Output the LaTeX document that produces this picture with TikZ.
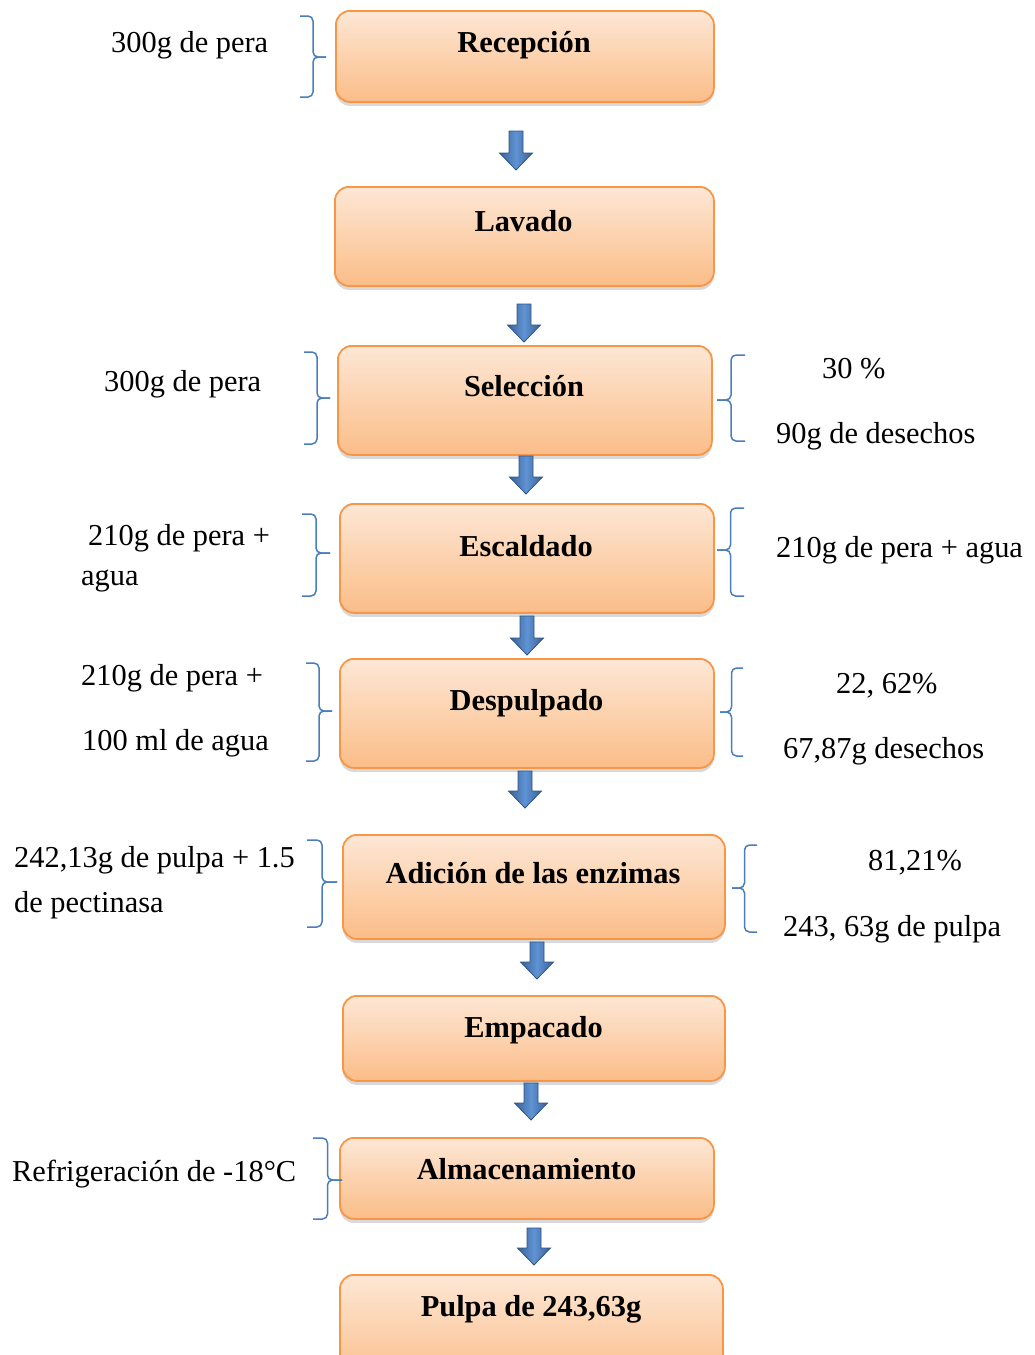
\documentclass[tikz,border=0pt]{standalone}
\usepackage{fontspec}
\setmainfont{Liberation Serif}
\usetikzlibrary{shadows}
\definecolor{boxtop}{HTML}{FDE7D5}
\definecolor{boxbot}{HTML}{FBBD88}
\definecolor{boxline}{HTML}{F79646}
\definecolor{bracecol}{HTML}{4A7EBB}
\definecolor{arrdark}{HTML}{3A6298}
\definecolor{arrlight}{HTML}{5F93D4}
\definecolor{arrline}{HTML}{2F5482}
\tikzset{
  stagebox/.style={rounded corners=14pt, draw=boxline, line width=1.8pt,
    top color=boxtop, bottom color=boxbot, anchor=north west, inner sep=0pt,
    drop shadow={shadow xshift=0pt, shadow yshift=-4pt, opacity=0.3}},
  stagetext/.style={anchor=base, inner sep=0pt, font=\fontsize{30.4}{34}\selectfont\bfseries},
  sidetext/.style={anchor=base west, inner sep=0pt, font=\fontsize{30.4}{34}\selectfont},
  bracestyle/.style={draw=bracecol, line width=1.5pt, rounded corners=5pt},
  blockarrow/.style={draw=arrline, line width=0.8pt, left color=arrdark, right color=arrdark, middle color=arrlight}
}
\newcommand\SideBrace[5]{%
  \draw[bracestyle] (#1,#3) -- ({(#1+#2)/2},#3) -- ({(#1+#2)/2},#4) -- (#2,#4);
  \draw[bracestyle] (#2,#4) -- ({(#1+#2)/2},#4) -- ({(#1+#2)/2},#5) -- (#1,#5);}
\newcommand\DownBlock[3]{%
  \draw[blockarrow] ({#1-7},#2) -- ({#1+7},#2) -- ({#1+7},{#3-17}) -- ({#1+16.5},{#3-17})
    -- (#1,#3) -- ({#1-16.5},{#3-17}) -- ({#1-7},{#3-17}) -- cycle;}
\begin{document}
\begin{tikzpicture}[x=1pt,y=-1pt]
\useasboundingbox (0,0) rectangle (1035,1355);
% boxes
\node[stagebox, minimum width=378pt, minimum height=91pt] (b1) at (335,10) {};
\node[stagebox, minimum width=379pt, minimum height=99pt] (b2) at (334,186) {};
\node[stagebox, minimum width=374pt, minimum height=109pt] (b3) at (337,345) {};
\node[stagebox, minimum width=374pt, minimum height=109pt] (b4) at (339,503) {};
\node[stagebox, minimum width=374pt, minimum height=109pt] (b5) at (339,658) {};
\node[stagebox, minimum width=382pt, minimum height=104pt] (b6) at (342,834) {};
\node[stagebox, minimum width=382pt, minimum height=85pt] (b7) at (342,995) {};
\node[stagebox, minimum width=374pt, minimum height=81pt] (b8) at (339,1137) {};
\node[stagebox, minimum width=383pt, minimum height=110pt] (b9) at (339,1274) {};
% box titles
\node[stagetext] (t1) at (524,52) {Recepción};
\node[stagetext] (t2) at (523.5,231) {Lavado};
\node[stagetext] (t3) at (524,396) {Selección};
\node[stagetext] (t4) at (526,556) {Escaldado};
\node[stagetext] (t5) at (526.5,710) {Despulpado};
\node[stagetext] (t6) at (533,883) {Adición de las enzimas};
\node[stagetext] (t7) at (533.5,1037) {Empacado};
\node[stagetext] (t8) at (526.5,1179) {Almacenamiento};
\node[stagetext] (t9) at (531,1316) {Pulpa de 243,63g};
% arrows
\DownBlock{516}{131}{170}
\DownBlock{524}{304}{342}
\DownBlock{526}{456}{494}
\DownBlock{527}{616}{655}
\DownBlock{525}{771}{808}
\DownBlock{537}{942}{979}
\DownBlock{531}{1083}{1120}
\DownBlock{534}{1228}{1265}
% left braces
\SideBrace{300}{326}{16}{57}{97}
\SideBrace{304}{330}{352}{398}{444}
\SideBrace{302}{330}{514}{553}{596}
\SideBrace{306}{332}{663}{711}{761}
\SideBrace{307}{337}{840}{882}{927}
\SideBrace{313}{342}{1138}{1180}{1219}
% right braces
\SideBrace{745}{717}{355}{400}{441}
\SideBrace{744}{717}{508}{550}{596}
\SideBrace{743}{720}{668}{712}{756}
\SideBrace{757}{732}{845}{888}{932}
% left texts
\node[sidetext] (l1) at (111,52) {300g de pera};
\node[sidetext] (l2) at (104,391) {300g de pera};
\node[sidetext] (l3a) at (88,545) {210g de pera +};
\node[sidetext] (l3b) at (81,585) {agua};
\node[sidetext] (l4a) at (81,685) {210g de pera +};
\node[sidetext] (l4b) at (82,750) {100 ml de agua};
\node[sidetext] (l5a) at (14,867) {242,13g de pulpa + 1.5};
\node[sidetext] (l5b) at (14,912) {de pectinasa};
\node[sidetext] (l6) at (12,1181) {Refrigeración de -18°C};
% right texts
\node[sidetext] (r1a) at (822,378) {30 \%};
\node[sidetext] (r1b) at (776,443) {90g de desechos};
\node[sidetext] (r2) at (776,557) {210g de pera + agua};
\node[sidetext] (r3a) at (836,693) {22, 62\%};
\node[sidetext] (r3b) at (783,758) {67,87g desechos};
\node[sidetext] (r4a) at (868,870) {81,21\%};
\node[sidetext] (r4b) at (783,936) {243, 63g de pulpa};
\end{tikzpicture}
\end{document}
